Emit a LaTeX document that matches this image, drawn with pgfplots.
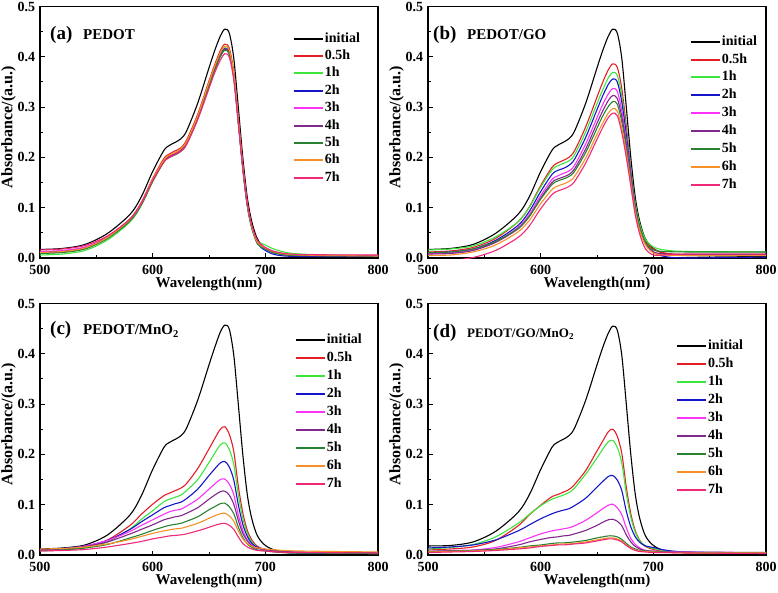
\documentclass[border=0pt]{standalone}
\usepackage{fontspec}
\setmainfont{Liberation Serif}
\usepackage{pgfplots}
\pgfplotsset{compat=1.18}
\usepackage{pgfplotstable}

\definecolor{cR}{RGB}{228,30,36}
\definecolor{cG}{RGB}{60,230,60}
\definecolor{cB}{RGB}{20,20,200}
\definecolor{cM}{RGB}{250,50,250}
\definecolor{cP}{RGB}{128,40,140}
\definecolor{cDG}{RGB}{40,130,50}
\definecolor{cO}{RGB}{245,145,40}
\definecolor{cK}{RGB}{240,40,120}

\pgfplotstableread{
x i h05 h1 h2 h3 h4 h5 h6 h7
500 0.017 0.012 0.006 0.010 0.013 0.011 0.009 0.011 0.016
520 0.019 0.014 0.008 0.012 0.015 0.013 0.011 0.013 0.018
540 0.027 0.021 0.015 0.019 0.022 0.020 0.018 0.020 0.025
560 0.049 0.042 0.036 0.040 0.042 0.041 0.039 0.041 0.044
580 0.087 0.078 0.072 0.075 0.077 0.076 0.074 0.077 0.078
590 0.122 0.111 0.105 0.107 0.109 0.108 0.106 0.109 0.109
600 0.172 0.158 0.152 0.154 0.155 0.154 0.152 0.156 0.154
610 0.214 0.198 0.191 0.193 0.193 0.193 0.191 0.195 0.191
615 0.224 0.207 0.201 0.202 0.203 0.202 0.200 0.205 0.200
620 0.230 0.213 0.206 0.207 0.208 0.207 0.205 0.210 0.206
625 0.237 0.219 0.213 0.214 0.215 0.214 0.212 0.217 0.212
630 0.252 0.234 0.227 0.228 0.228 0.228 0.226 0.231 0.225
640 0.308 0.286 0.280 0.280 0.280 0.279 0.277 0.283 0.275
650 0.378 0.352 0.345 0.345 0.344 0.344 0.342 0.349 0.337
655 0.412 0.384 0.377 0.376 0.375 0.375 0.373 0.381 0.368
660 0.441 0.412 0.405 0.403 0.401 0.402 0.400 0.408 0.393
664 0.455 0.425 0.418 0.416 0.414 0.415 0.413 0.421 0.406
668 0.447 0.417 0.410 0.409 0.407 0.407 0.405 0.413 0.399
672 0.397 0.370 0.363 0.362 0.361 0.361 0.359 0.367 0.354
676 0.300 0.279 0.272 0.272 0.272 0.272 0.270 0.276 0.268
680 0.200 0.185 0.178 0.180 0.181 0.180 0.178 0.182 0.179
684 0.120 0.109 0.103 0.105 0.107 0.106 0.104 0.107 0.108
688 0.072 0.064 0.058 0.061 0.063 0.062 0.060 0.062 0.065
693 0.038 0.032 0.034 0.029 0.032 0.030 0.028 0.031 0.035
700 0.019 0.020 0.026 0.015 0.020 0.019 0.018 0.020 0.021
710 0.009 0.011 0.016 0.006 0.011 0.010 0.009 0.011 0.012
730 0.005 0.006 0.008 0.003 0.006 0.005 0.005 0.006 0.007
800 0.003 0.005 0.004 0.003 0.005 0.004 0.004 0.004 0.006
}\tabA

\pgfplotstableread{
x i h05 h1 h2 h3 h4 h5 h6 h7
500 0.017 0.012 0.016 0.010 0.008 0.008 0.011 0.005 -0.006
520 0.019 0.014 0.018 0.012 0.010 0.009 0.012 0.006 -0.005
540 0.027 0.021 0.024 0.018 0.016 0.015 0.018 0.012 0.001
560 0.049 0.039 0.042 0.035 0.032 0.031 0.033 0.026 0.015
580 0.087 0.072 0.072 0.065 0.061 0.058 0.059 0.052 0.041
590 0.122 0.102 0.101 0.093 0.087 0.083 0.083 0.075 0.064
600 0.172 0.144 0.141 0.132 0.124 0.119 0.117 0.108 0.098
610 0.214 0.180 0.175 0.166 0.156 0.150 0.146 0.136 0.126
615 0.224 0.189 0.183 0.174 0.163 0.157 0.153 0.143 0.133
620 0.230 0.194 0.188 0.178 0.168 0.161 0.157 0.147 0.137
625 0.237 0.200 0.193 0.184 0.173 0.166 0.162 0.152 0.142
630 0.252 0.213 0.205 0.196 0.184 0.177 0.172 0.162 0.152
640 0.308 0.261 0.251 0.240 0.227 0.217 0.210 0.199 0.189
650 0.378 0.320 0.307 0.295 0.279 0.268 0.258 0.246 0.236
655 0.412 0.349 0.334 0.322 0.305 0.292 0.282 0.268 0.259
660 0.441 0.374 0.358 0.345 0.326 0.313 0.301 0.288 0.279
664 0.455 0.386 0.369 0.356 0.337 0.323 0.311 0.297 0.288
668 0.447 0.379 0.363 0.350 0.331 0.317 0.306 0.292 0.283
672 0.397 0.337 0.322 0.310 0.293 0.281 0.271 0.258 0.249
676 0.300 0.262 0.253 0.245 0.233 0.225 0.219 0.209 0.200
680 0.200 0.175 0.172 0.167 0.160 0.157 0.155 0.150 0.143
684 0.120 0.108 0.108 0.102 0.098 0.097 0.098 0.092 0.085
688 0.072 0.065 0.067 0.060 0.058 0.058 0.060 0.054 0.047
693 0.038 0.034 0.037 0.030 0.029 0.029 0.031 0.026 0.018
700 0.019 0.018 0.022 0.012 0.012 0.012 0.016 0.010 0.006
710 0.009 0.010 0.016 0.003 0.007 0.008 0.013 0.006 0.006
730 0.005 0.007 0.013 0.000 0.006 0.007 0.012 0.005 0.008
800 0.003 0.006 0.012 0.002 0.006 0.007 0.012 0.005 0.008
}\tabB

\pgfplotstableread{
x i h05 h1 h2 h3 h4 h5 h6 h7
500 0.012 0.010 0.009 0.010 0.009 0.010 0.008 0.012 0.008
520 0.014 0.012 0.011 0.013 0.012 0.012 0.010 0.013 0.009
540 0.020 0.016 0.014 0.018 0.018 0.017 0.014 0.016 0.011
560 0.040 0.030 0.026 0.029 0.029 0.026 0.021 0.022 0.016
580 0.080 0.059 0.052 0.051 0.047 0.042 0.034 0.031 0.023
590 0.118 0.081 0.071 0.066 0.059 0.051 0.041 0.037 0.027
600 0.170 0.101 0.088 0.080 0.070 0.060 0.049 0.043 0.032
610 0.214 0.118 0.106 0.094 0.081 0.070 0.056 0.048 0.036
615 0.224 0.123 0.111 0.098 0.086 0.073 0.059 0.050 0.038
620 0.230 0.128 0.115 0.102 0.089 0.076 0.061 0.052 0.039
625 0.237 0.133 0.119 0.105 0.091 0.078 0.063 0.053 0.040
630 0.252 0.142 0.128 0.112 0.097 0.083 0.067 0.056 0.042
640 0.308 0.172 0.150 0.131 0.111 0.094 0.076 0.063 0.048
650 0.378 0.211 0.184 0.158 0.131 0.111 0.090 0.073 0.055
655 0.412 0.231 0.202 0.171 0.141 0.119 0.096 0.078 0.059
660 0.443 0.250 0.219 0.183 0.150 0.126 0.102 0.082 0.062
664 0.457 0.255 0.223 0.186 0.151 0.127 0.103 0.083 0.063
668 0.449 0.240 0.210 0.175 0.141 0.119 0.096 0.078 0.059
672 0.397 0.206 0.180 0.149 0.120 0.101 0.082 0.067 0.051
676 0.300 0.137 0.120 0.100 0.080 0.069 0.056 0.048 0.036
680 0.200 0.084 0.073 0.061 0.049 0.043 0.035 0.032 0.023
684 0.120 0.049 0.043 0.037 0.030 0.028 0.022 0.023 0.016
688 0.072 0.030 0.026 0.023 0.019 0.018 0.015 0.017 0.012
693 0.038 0.017 0.015 0.015 0.013 0.013 0.010 0.014 0.009
700 0.019 0.011 0.010 0.011 0.010 0.011 0.008 0.012 0.008
710 0.009 0.006 0.006 0.007 0.007 0.008 0.006 0.010 0.006
730 0.005 0.004 0.004 0.004 0.005 0.006 0.004 0.008 0.005
800 0.003 0.003 0.003 0.003 0.004 0.005 0.003 0.006 0.004
}\tabC

\pgfplotstableread{
x i h05 h1 h2 h3 h4 h5 h6 h7
500 0.018 0.010 0.012 0.014 0.007 0.007 0.007 0.006 0.005
520 0.019 0.012 0.015 0.016 0.009 0.008 0.008 0.007 0.006
540 0.026 0.016 0.021 0.020 0.010 0.009 0.009 0.008 0.007
560 0.047 0.029 0.036 0.030 0.015 0.012 0.011 0.010 0.009
580 0.085 0.058 0.063 0.048 0.026 0.020 0.015 0.014 0.012
590 0.120 0.080 0.081 0.060 0.034 0.026 0.018 0.016 0.014
600 0.170 0.099 0.098 0.072 0.042 0.031 0.020 0.018 0.017
610 0.214 0.116 0.111 0.082 0.048 0.035 0.023 0.020 0.019
615 0.224 0.120 0.115 0.086 0.050 0.036 0.024 0.021 0.020
620 0.230 0.125 0.119 0.089 0.052 0.038 0.024 0.022 0.020
625 0.237 0.130 0.124 0.092 0.054 0.039 0.025 0.022 0.021
630 0.252 0.140 0.133 0.098 0.058 0.042 0.026 0.023 0.022
640 0.308 0.168 0.161 0.113 0.069 0.049 0.029 0.026 0.024
650 0.378 0.207 0.193 0.135 0.084 0.059 0.034 0.030 0.028
655 0.412 0.226 0.210 0.146 0.092 0.065 0.036 0.032 0.030
660 0.441 0.245 0.225 0.156 0.099 0.070 0.038 0.034 0.032
664 0.455 0.250 0.228 0.158 0.101 0.071 0.038 0.034 0.032
668 0.447 0.236 0.214 0.149 0.094 0.067 0.036 0.032 0.030
672 0.397 0.202 0.183 0.128 0.080 0.058 0.031 0.028 0.026
676 0.300 0.135 0.122 0.087 0.054 0.040 0.023 0.020 0.019
680 0.200 0.082 0.075 0.056 0.033 0.026 0.016 0.014 0.013
684 0.120 0.048 0.045 0.036 0.021 0.017 0.012 0.010 0.009
688 0.072 0.029 0.028 0.025 0.014 0.012 0.009 0.008 0.007
693 0.038 0.017 0.018 0.018 0.009 0.009 0.008 0.007 0.006
700 0.019 0.011 0.013 0.015 0.008 0.007 0.007 0.006 0.005
710 0.009 0.007 0.009 0.010 0.007 0.006 0.006 0.005 0.005
730 0.005 0.005 0.006 0.006 0.006 0.005 0.005 0.004 0.004
800 0.003 0.004 0.005 0.004 0.005 0.004 0.004 0.004 0.003
}\tabD

\pgfplotsset{
  myaxis/.style={
    width=338pt, height=251.5pt, scale only axis,
    xmin=500, xmax=800, ymin=0, ymax=0.5,
    xtick={500,600,700,800}, ytick={0,0.1,0.2,0.3,0.4,0.5},
    minor x tick num=1, minor y tick num=1,
    tick pos=left, tick align=inside,
    major tick length=4.5pt, minor tick length=3pt,
    every tick/.style={black, line width=1pt},
    axis line style={line width=1.3pt},
    /pgf/number format/assume math mode=true,
    yticklabel style={/pgf/number format/fixed, /pgf/number format/fixed zerofill, /pgf/number format/precision=1, xshift=-1.3pt},
    ticklabel style={font=\fontsize{14}{14}\selectfont\bfseries},
    xticklabel style={yshift=-3.3pt},
    xlabel={Wavelength(nm)}, ylabel={Absorbance/(a.u.)},
    xlabel style={at={(axis description cs:0.5,-0.1155)}, anchor=base, font=\fontsize{15}{15}\selectfont\bfseries},
    ylabel style={at={(axis description cs:-0.093,0.52)}, anchor=center, font=\fontsize{16}{16}\selectfont\bfseries},
    legend style={draw=none, fill=none, inner sep=0pt, outer sep=0pt,
      font=\fontsize{14}{14}\selectfont\bfseries, column sep=1pt,
      nodes={inner sep=0pt, text height=10pt, text depth=3pt}, anchor=north west},
    legend cell align=left,
    legend image code/.code={\draw[#1, line width=2pt] (0pt,0pt) -- (29pt,0pt);},
    every axis plot/.append style={line width=1.1pt, smooth, tension=0.5},
  }
}

\newcommand{\curves}[1]{%
  \addplot[black] table[x=x,y=i]{#1};
  \addplot[cR] table[x=x,y=h05]{#1};
  \addplot[cG] table[x=x,y=h1]{#1};
  \addplot[cB] table[x=x,y=h2]{#1};
  \addplot[cM] table[x=x,y=h3]{#1};
  \addplot[cP] table[x=x,y=h4]{#1};
  \addplot[cDG] table[x=x,y=h5]{#1};
  \addplot[cO] table[x=x,y=h6]{#1};
  \addplot[cK] table[x=x,y=h7]{#1};
  \legend{initial,0.5h,1h,2h,3h,4h,5h,6h,7h}
}

\begin{document}
\begin{tikzpicture}
% (a)
\begin{axis}[myaxis, at={(0pt,297pt)}, anchor=south west,
  legend style={at={(0.7485,0.898)}, row sep=4.4pt}]
\curves{\tabA}
\node[anchor=base west, inner sep=0pt, font=\fontsize{19}{19}\selectfont\bfseries] at (rel axis cs:0.0296,0.8696) {(a)};
\node[anchor=base west, inner sep=0pt, font=\fontsize{15}{15}\selectfont\bfseries] at (rel axis cs:0.127,0.8696) {PEDOT};
\end{axis}
% (b)
\begin{axis}[myaxis, at={(388pt,297pt)}, anchor=south west,
  legend style={at={(0.775,0.886)}, row sep=4.9pt}]
\curves{\tabB}
\node[anchor=base west, inner sep=0pt, font=\fontsize{19}{19}\selectfont\bfseries] at (rel axis cs:0.0148,0.867) {(b)};
\node[anchor=base west, inner sep=0pt, font=\fontsize{15}{15}\selectfont\bfseries] at (rel axis cs:0.1154,0.867) {PEDOT/GO};
\end{axis}
% (c)
\begin{axis}[myaxis, at={(0pt,0pt)}, anchor=south west,
  legend style={at={(0.754,0.879)}, row sep=5pt}]
\curves{\tabC}
\node[anchor=base west, inner sep=0pt, font=\fontsize{19}{19}\selectfont\bfseries] at (rel axis cs:0.0296,0.875) {(c)};
\node[anchor=base west, inner sep=0pt, font=\fontsize{15}{15}\selectfont\bfseries] at (rel axis cs:0.127,0.875) {PEDOT/MnO\textsubscript{2}};
\end{axis}
% (d)
\begin{axis}[myaxis, at={(388pt,0pt)}, anchor=south west,
  legend style={at={(0.734,0.855)}, row sep=4.9pt}]
\curves{\tabD}
\node[anchor=base west, inner sep=0pt, font=\fontsize{19}{19}\selectfont\bfseries] at (rel axis cs:0.0148,0.864) {(d)};
\node[anchor=base west, inner sep=0pt, font=\fontsize{13}{13}\selectfont\bfseries] at (rel axis cs:0.1154,0.864) {PEDOT/GO/MnO\textsubscript{2}};
\end{axis}
\pgfresetboundingbox
\path[use as bounding box] (-40pt,-37pt) rectangle (738pt,555pt);
\end{tikzpicture}
\end{document}
